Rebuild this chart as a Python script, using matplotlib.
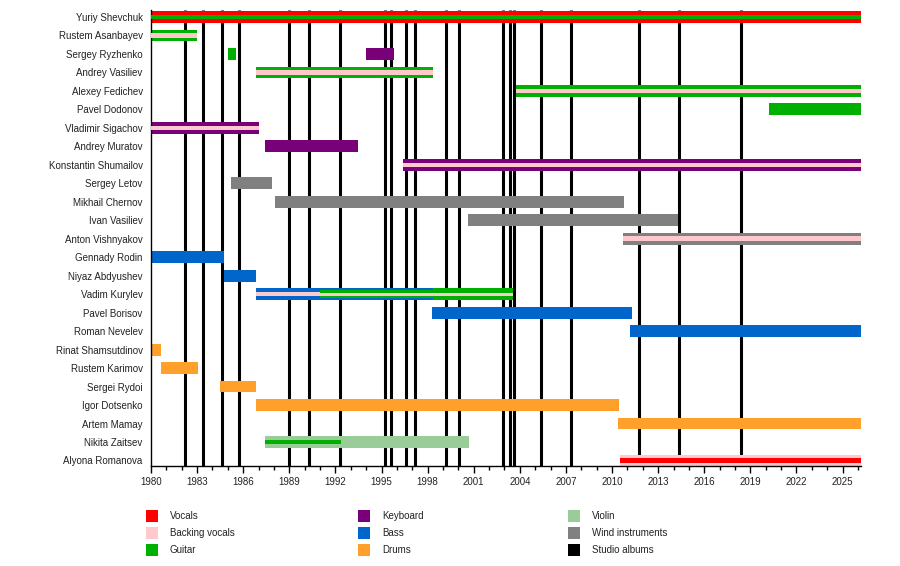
import matplotlib
matplotlib.use("Agg")
import matplotlib.pyplot as plt
from matplotlib.patches import Rectangle

plt.rcParams['font.family'] = ['Liberation Sans', 'DejaVu Sans']

END = 2026.2

members = [
    "Yuriy Shevchuk", "Rustem Asanbayev", "Sergey Ryzhenko", "Andrey Vasiliev",
    "Alexey Fedichev", "Pavel Dodonov", "Vladimir Sigachov", "Andrey Muratov",
    "Konstantin Shumailov", "Sergey Letov", "Mikhail Chernov", "Ivan Vasiliev",
    "Anton Vishnyakov", "Gennady Rodin", "Niyaz Abdyushev", "Vadim Kurylev",
    "Pavel Borisov", "Roman Nevelev", "Rinat Shamsutdinov", "Rustem Karimov",
    "Sergei Rydoi", "Igor Dotsenko", "Artem Mamay", "Nikita Zaitsev",
    "Alyona Romanova",
]

role_colors = {
    "Vocals": "#ff0000",
    "Backing vocals": "#ffc8cc",
    "Guitar": "#00b000",
    "Keyboard": "#780078",
    "Bass": "#0066cc",
    "Drums": "#ffa02a",
    "Violin": "#99cc99",
    "Wind instruments": "#808080",
    "Studio albums": "#000000",
}

# full-height bars: (member, start, end, role)
main_bars = [
    ("Yuriy Shevchuk", 1980, END, "Vocals"),
    ("Rustem Asanbayev", 1980, 1983.0, "Guitar"),
    ("Sergey Ryzhenko", 1985.0, 1985.5, "Guitar"),
    ("Sergey Ryzhenko", 1994.0, 1995.8, "Keyboard"),
    ("Andrey Vasiliev", 1986.8, 1998.35, "Guitar"),
    ("Alexey Fedichev", 2003.75, END, "Guitar"),
    ("Pavel Dodonov", 2020.2, END, "Guitar"),
    ("Vladimir Sigachov", 1980, 1987.0, "Keyboard"),
    ("Andrey Muratov", 1987.4, 1993.5, "Keyboard"),
    ("Konstantin Shumailov", 1996.4, END, "Keyboard"),
    ("Sergey Letov", 1985.2, 1987.9, "Wind instruments"),
    ("Mikhail Chernov", 1988.1, 2010.8, "Wind instruments"),
    ("Ivan Vasiliev", 2000.6, 2014.3, "Wind instruments"),
    ("Anton Vishnyakov", 2010.7, END, "Wind instruments"),
    ("Gennady Rodin", 1980, 1984.75, "Bass"),
    ("Niyaz Abdyushev", 1984.75, 1986.83, "Bass"),
    ("Vadim Kurylev", 1986.83, 1998.35, "Bass"),
    ("Vadim Kurylev", 1998.35, 2003.55, "Guitar"),
    ("Pavel Borisov", 1998.3, 2011.3, "Bass"),
    ("Roman Nevelev", 2011.2, END, "Bass"),
    ("Rinat Shamsutdinov", 1980, 1980.65, "Drums"),
    ("Rustem Karimov", 1980.65, 1983.05, "Drums"),
    ("Sergei Rydoi", 1984.5, 1986.83, "Drums"),
    ("Igor Dotsenko", 1986.83, 2010.45, "Drums"),
    ("Artem Mamay", 2010.4, END, "Drums"),
    ("Nikita Zaitsev", 1987.45, 2000.7, "Violin"),
    ("Alyona Romanova", 2010.5, END, "Backing vocals"),
]

# second instrument, wide inner stripe
wide_bars = [
    ("Vadim Kurylev", 1991.0, 1998.35, "Guitar"),
]

# second instrument, medium stripe
mid_bars = [
    ("Yuriy Shevchuk", 1980, END, "Guitar"),
    ("Rustem Asanbayev", 1980, 1983.0, "Backing vocals"),
    ("Andrey Vasiliev", 1986.8, 1998.35, "Backing vocals"),
    ("Alexey Fedichev", 2003.75, END, "Backing vocals"),
    ("Vladimir Sigachov", 1980, 1987.0, "Backing vocals"),
    ("Konstantin Shumailov", 1996.4, END, "Backing vocals"),
    ("Anton Vishnyakov", 2010.7, END, "Backing vocals"),
    ("Vadim Kurylev", 1986.83, 1991.0, "Backing vocals"),
    ("Nikita Zaitsev", 1987.45, 1992.35, "Guitar"),
    ("Alyona Romanova", 2010.5, END, "Vocals"),
]

# third instrument, thin stripe
thin_bars = [
    ("Vadim Kurylev", 1991.0, 2003.55, "Backing vocals"),
]

albums = [1982.2, 1983.4, 1984.65, 1985.75, 1989.0, 1990.3, 1992.3, 1995.25,
          1995.6, 1996.6, 1997.15, 1999.2, 2000.05, 2002.9, 2003.35, 2003.6,
          2005.4, 2007.3, 2011.75, 2014.35, 2018.4]

legend_cols = [
    ["Vocals", "Backing vocals", "Guitar"],
    ["Keyboard", "Bass", "Drums"],
    ["Violin", "Wind instruments", "Studio albums"],
]

fig = plt.figure(figsize=(9, 5.66), dpi=100)
ax = fig.add_axes([151 / 900, 100 / 566, 710 / 900, 456 / 566])

row = {m: i for i, m in enumerate(members)}
y_top, y_bot = -0.38, 24.3

ax.vlines(albums, y_top, y_bot, color="black", lw=2.2, zorder=1)


def draw(bars, h, z):
    for m, s, e, r in bars:
        ax.barh(row[m], e - s, left=s, height=h, color=role_colors[r],
                edgecolor="none", zorder=z)


draw(main_bars, 0.64, 2)
draw(wide_bars, 0.42, 3)
draw(mid_bars, 0.25, 4)
draw(thin_bars, 0.15, 5)

ax.set_xlim(1980, END)
ax.set_ylim(y_bot, y_top)
ax.set_yticks(range(len(members)))
ax.set_yticklabels(members, fontsize=7, color="#222222")
ax.tick_params(axis="y", length=0, pad=6)

ax.set_xticks(range(1980, 2026, 3))
ax.set_xticks(range(1980, 2027), minor=True)
ax.tick_params(axis="x", which="major", length=5, width=1, labelsize=7,
               pad=3, labelcolor="#222222")
ax.tick_params(axis="x", which="minor", length=3, width=1)

ax.spines["top"].set_visible(False)
ax.spines["right"].set_visible(False)
ax.spines["left"].set_linewidth(1)
ax.spines["bottom"].set_linewidth(1)

# legend below the chart
col_x = [146, 358, 568]
row_y = [516, 533, 550]
for cx, items in zip(col_x, legend_cols):
    for ry, name in zip(row_y, items):
        fig.add_artist(Rectangle((cx / 900, (566 - ry - 6) / 566), 12 / 900, 12 / 566,
                                 transform=fig.transFigure,
                                 facecolor=role_colors[name], edgecolor="none"))
        fig.text((cx + 24) / 900, (566 - ry) / 566, name, fontsize=7,
                 va="center", ha="left", color="#222222")

fig.savefig("out.png", dpi=100)
